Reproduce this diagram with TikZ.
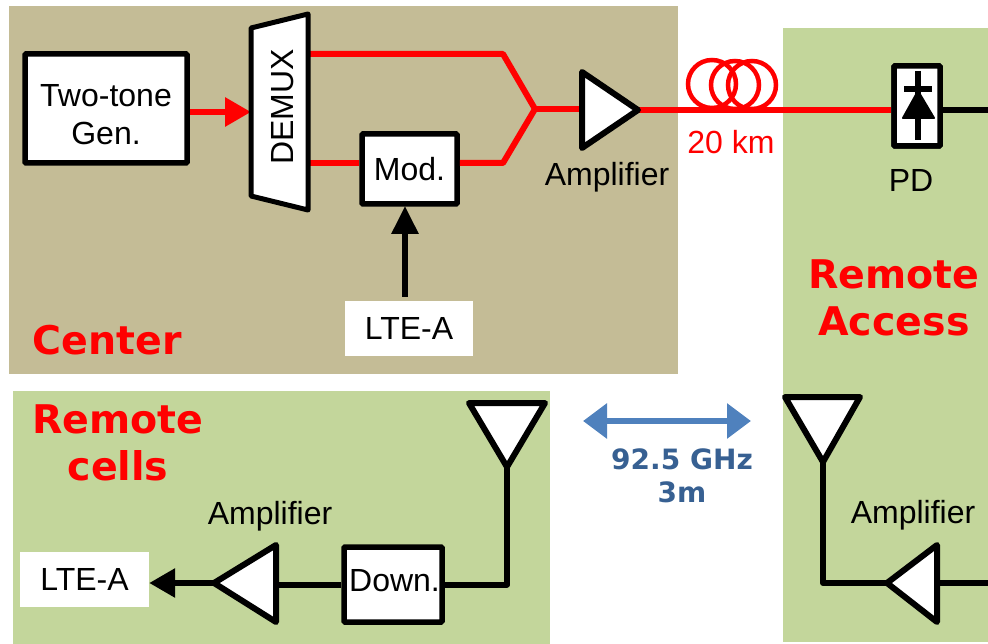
\documentclass[tikz,border=0pt]{standalone}
\usepackage{fontspec}
\setmainfont{Liberation Sans}
\newfontfamily\titlefont{DejaVu Sans Bold}
\usetikzlibrary{arrows.meta}
\definecolor{centerbg}{HTML}{C4BC96}
\definecolor{remotebg}{HTML}{C3D69B}
\definecolor{linkblue}{HTML}{4F81BD}
\definecolor{linktext}{HTML}{376092}
\tikzset{
 blockbox/.style={draw=black,fill=white,line width=5.5pt,rounded corners=1pt,inner sep=0pt},
 tagbox/.style={fill=white,inner sep=0pt},
 triabox/.style={draw=black,fill=white,line width=6pt,line join=round},
 redline/.style={red,line width=6pt,line join=round},
 blackline/.style={black,line width=6pt,line join=round},
 title/.style={red,align=center,font=\titlefont\fontsize{39.5}{47}\selectfont},
}
\begin{document}
\begin{tikzpicture}[x=1pt,y=-1pt,font=\fontsize{32}{38}\selectfont]
 \useasboundingbox (0,0) rectangle (988,644);
 \fill[centerbg] (9,6) rectangle (678,374);
 \fill[remotebg] (783,28) rectangle (988,642);
 \fill[remotebg] (13,391) rectangle (550,644);
 % points of the polygons
 \coordinate (D1) at (251,28);
 \coordinate (D2) at (308,14);
 \coordinate (D3) at (308,210);
 \coordinate (D4) at (251,196);
 \coordinate (J) at (535,109);
 \coordinate (U1) at (503,54);
 \coordinate (U2) at (503,163);
 \coordinate (A1) at (582,72);
 \coordinate (A2) at (582,148);
 \coordinate (A3) at (638,110);
 \coordinate (B1) at (276,545);
 \coordinate (B2) at (276,622);
 \coordinate (B3) at (214,583);
 \coordinate (C1) at (937,545);
 \coordinate (C2) at (937,622);
 \coordinate (C3) at (887,583);
 \coordinate (E1) at (469,403);
 \coordinate (E2) at (545,403);
 \coordinate (E3) at (507,467);
 \coordinate (F1) at (785,397);
 \coordinate (F2) at (860,397);
 \coordinate (F3) at (823,462);
 \coordinate (R) at (990.6,110);
 \coordinate (S) at (990.6,583);
 % blocks
 \node[blockbox,minimum width=162pt,minimum height=109pt,align=center] (gen) at (106,108.5) {\rule{0pt}{35pt}Two-tone\\Gen.};
 \node[blockbox,minimum width=95pt,minimum height=70pt] (mod) at (409.5,169) {Mod.};
 \node[blockbox,minimum width=98pt,minimum height=75pt] (down) at (393,584.5) {\rule[-9pt]{0pt}{9pt}\hspace{3pt}Down.};
 \node[blockbox,minimum width=46pt,minimum height=80pt] (pd) at (917,106) {};
 \node[tagbox,minimum width=128pt,minimum height=55pt] (lte) at (409,328.5) {LTE-A};
 \node[tagbox,minimum width=129pt,minimum height=55pt] (ltb) at (84.5,579.5) {LTE-A};
 % red fibre
 \foreach \x/\y in {712/84,735/85,752/85}
   \draw[red,line width=4.5pt] (\x,\y) circle[radius=24];
 \draw[redline] (D2 |- U1)--(U1)--(J)--(U2)--(mod.east |- U2);
 \draw[redline] (D3 |- U2)--(mod.west |- U2);
 \draw[redline] (J)--(A1 |- J);
 \draw[redline] (A3)--(pd.west |- A3);
 \draw[redline,-{Triangle[length=26pt,width=28pt]}] (gen.east |- 0,112)--(D1 |- 0,112);
 % black lines
 \draw[blackline] (pd.east |- R)--(R)--(S)--(C1 |- S);
 \draw[blackline] (F3)--(F3 |- C3)--(C3);
 \draw[blackline] (E3)--(E3 |- down.east)--(down.east);
 \draw[blackline] (down.west)--(B1 |- down.west);
 \draw[blackline,-{Triangle[length=26pt,width=28pt]}] (B3)--(ltb.east |- B3);
 \draw[blackline,-{Triangle[length=28pt,width=26pt]}] (lte.north)+(-4,-4)--(405,206);
 % triangles
 \draw[triabox,line width=5pt] (D1)--(D2)--(D3)--(D4)--cycle;
 \foreach \p/\q/\r in {A1/A2/A3,B1/B2/B3,C1/C2/C3,E1/E2/E3,F1/F2/F3}
   \draw[triabox] (\p)--(\q)--(\r)--cycle;
 \node[blockbox,minimum width=46pt,minimum height=80pt] at (pd) {};
 \node[rotate=90] (demux) at (283,107) {DEMUX};
 % diode
 \draw[black,line width=5.5pt] (918,71)--(918,140);
 \draw[black,line width=5.5pt] (904,89)--(932,89);
 \fill[black,draw=black,line width=2pt,line join=round] (918,91)--(934,118)--(903,118)--cycle;
 % labels
 \node (amp) at (607,177) {Amplifier};
 \node (ampb) at (270,516) {Amplifier};
 \node (ampc) at (913,515) {Amplifier};
 \node (pdlab) at (911,180) {PD};
 \node[red] (fib) at (731,142) {20 km};
 \node[title] (center) at (107,340) {Center};
 \node[title] (cells) at (118,443) {Remote\\cells};
 \node[title] (access) at (894,298) {Remote\\Access};
 % wireless link
 \coordinate (L1) at (583,421);
 \coordinate (L2) at (751,421);
 \draw[linkblue,line width=6pt,{Triangle[length=24pt,width=34pt]}-{Triangle[length=24pt,width=34pt]}] (L1)--(L2);
 \node[linktext,align=center,font=\titlefont\fontsize{28}{33}\selectfont] (link) at (682,476) {92.5 GHz\\3m};
\end{tikzpicture}
\end{document}
